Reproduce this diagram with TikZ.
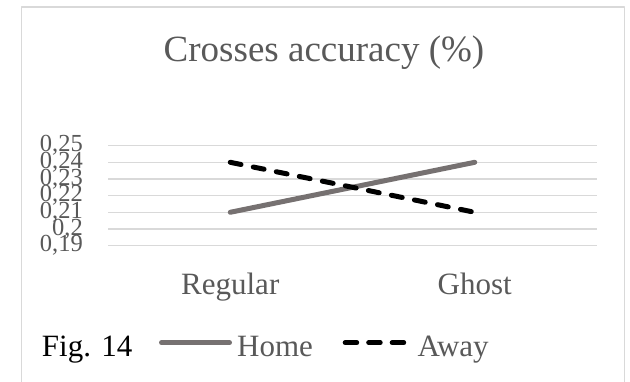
\documentclass[tikz,border=0pt]{standalone}
\usepackage{fontspec}
\setmainfont{Liberation Serif}
\usepackage{tikz}
\usetikzlibrary{positioning}
\usepackage{xcolor}
\definecolor{textgray}{RGB}{89,89,89}
\definecolor{gridgray}{RGB}{217,217,217}
\definecolor{homegray}{RGB}{118,113,113}

\begin{document}
\begin{tikzpicture}[
        			line join=round,
        			homeline/.style={homegray, line width=5pt, line cap=round},
        			awayline/.style={black, line width=5pt, line cap=round, dash pattern=on 11pt off 12.5pt},
        			ticklabel/.style={anchor=east, inner sep=0pt, text=textgray, font=\fontsize{24.5}{24.5}\selectfont},
        			catlabel/.style={anchor=base, inner sep=0pt, text=textgray, font=\fontsize{31}{31}\selectfont},
        			legendlabel/.style={anchor=base west, inner sep=0pt, text=textgray, font=\fontsize{31}{31}\selectfont}
        			]
        			\useasboundingbox (0pt, 0pt) rectangle (630pt, 382pt);

        			%% Frame
        			\draw[gridgray, line width=1.8pt] (21.5pt, -5pt) -- (21.5pt, 375pt) -- (624.5pt, 375pt) -- (624.5pt, -5pt);

        			%% Title
        			\node[anchor=base, inner sep=0pt, text=textgray, font=\fontsize{37}{37}\selectfont] (title) at (324pt, 320.3pt) {Crosses accuracy (\%)};

% Axis Graduation
                            \foreach \y/\ytext in {236.3pt/{0,25}, 219.7pt/{0,24}, 203pt/{0,23}, 186.3pt/{0,22}, 169.7pt/{0,21}, 153pt/{0,2}, 136.3pt/{0,19}} {
                                \draw[gridgray, line width=1.3pt] (108pt, \y) -- (597pt, \y);
                                \node[ticklabel] at (83pt, \y) {\ytext};
                            }

\node[catlabel] (regular) at (230.25pt, 87pt) {Regular};
\node[catlabel] (ghost) at (474.75pt, 87pt) {Ghost};

\coordinate (home-regular) at (230.25pt, 169.7pt);
\coordinate (home-ghost) at (474.75pt, 219.7pt);
\coordinate (away-regular) at (230.25pt, 219.7pt);
\coordinate (away-ghost) at (474.75pt, 169.7pt);

\draw[homeline] (home-regular) -- (home-ghost);

\draw[awayline] (away-regular) -- (away-ghost);

                %% Caption
                \node[anchor=base west, inner sep=0pt, font=\fontsize{31}{31}\selectfont] (fig) at (41.7pt, 25.5pt) {Fig. 14};
                \coordinate (home-a) at (161.5pt, 39.3pt);
                \coordinate (home-b) at (229.5pt, 39.3pt);
                \draw[homeline] (home-a) -- (home-b);
                \node[legendlabel] (home) at (237pt, 25.5pt) {Home};
                \coordinate (away-a) at (345.2pt, 39.3pt);
                \coordinate (away-b) at (405.8pt, 39.3pt);
                \draw[awayline, dash pattern=on 11.5pt off 12pt] (away-a) -- (away-b);
                \node[legendlabel] (away) at (417.3pt, 25.5pt) {Away};
        \end{tikzpicture}
\end{document}
